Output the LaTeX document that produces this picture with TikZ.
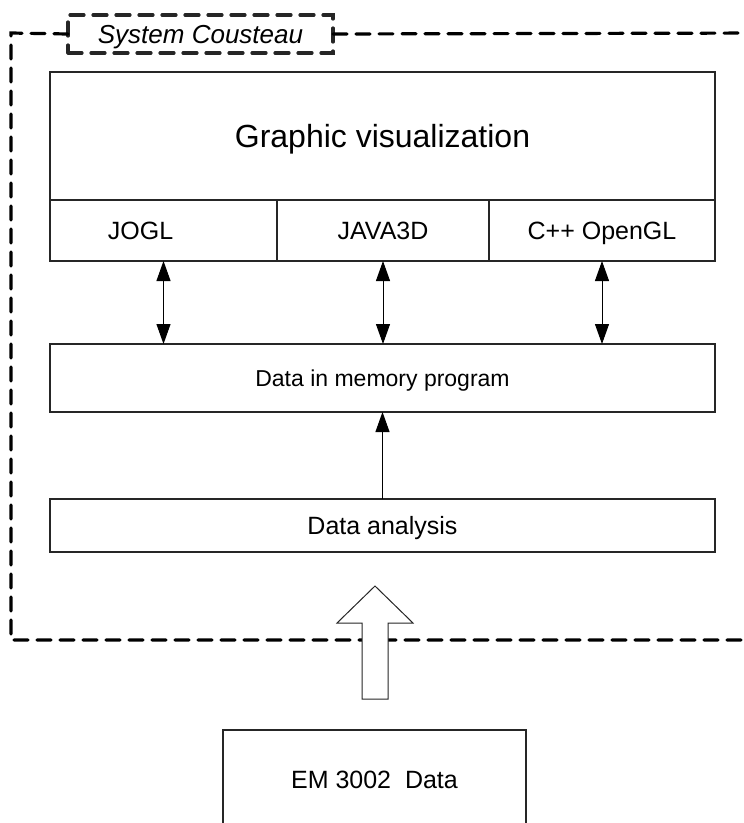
\documentclass[tikz,border=0pt]{standalone}
\usepackage{fontspec}
\setmainfont{Liberation Sans}
\usetikzlibrary{arrows.meta,calc}
\begin{document}
\begin{tikzpicture}[x=1pt,y=-1pt,
  box/.style={draw=black!85,line width=1.2pt,rectangle,inner sep=0pt,outer sep=0pt,anchor=north west,text height=17.9pt,text depth=0pt,font=\fontsize{25}{29}\selectfont},
  dbl/.style={line width=1pt,{Triangle[width=14pt,length=20pt]}-{Triangle[width=14pt,length=20pt]}},
  single/.style={line width=1pt,-{Triangle[width=14pt,length=20pt]}},
  frame/.style={line width=3.2pt,dash pattern=on 14pt off 9pt,line cap=round},
  hollow/.style={draw=black!85,line width=1pt,fill=white}]
\useasboundingbox (0,0) rectangle (744,823);
% dashed system frame
\node[box,frame,minimum width=265pt,minimum height=38pt,text height=18.6pt,font=\fontsize{26}{30}\selectfont\itshape] (sys) at (68,15) {System Cousteau};
\coordinate (tl) at (11,33);
\coordinate (tr) at (770,33);
\coordinate (bl) at (11,640);
\coordinate (br) at (770,640);
\draw[frame] (sys.west) -- (tl) -- (bl) -- (br);
\draw[frame] (sys.east) -- (tr);
% boxes
\node[box,minimum width=665pt,minimum height=128pt,text height=22.9pt,font=\fontsize{32}{38}\selectfont] (gv) at (50,72) {Graphic visualization};
\node[box,minimum width=227pt,minimum height=61pt,
      label={[xshift=-23pt,text height=17.9pt,text depth=0pt,inner sep=0pt,font=\fontsize{25}{29}\selectfont]center:JOGL}] (jogl) at (50,200) {};
\node[box,minimum width=212pt,minimum height=61pt] (java) at (277,200) {JAVA3D};
\node[box,minimum width=226pt,minimum height=61pt] (cpp) at (489,200) {C++ OpenGL};
\node[box,minimum width=665pt,minimum height=68pt,text height=16.5pt,font=\fontsize{23}{27}\selectfont] (mem) at (50,344) {Data in memory program};
\node[box,minimum width=665pt,minimum height=53pt] (ana) at (50,499) {Data analysis};
\node[box,minimum width=303pt,minimum height=100pt] (em) at (223,730) {EM 3002\ \ Data};
% connectors
\draw[dbl] (jogl.south) -- (jogl.south |- mem.north);
\draw[dbl] (java.south) -- (java.south |- mem.north);
\draw[dbl] (cpp.south) -- (cpp.south |- mem.north);
\draw[single] (ana.north) -- (mem.south);
% hollow block arrow from EM 3002 Data up to the system
\draw[hollow] (362,699) -- (362,623) -- (337,623) -- (375,586) -- (413,623) -- (388,623) -- (388,699) -- cycle;
\end{tikzpicture}
\end{document}
